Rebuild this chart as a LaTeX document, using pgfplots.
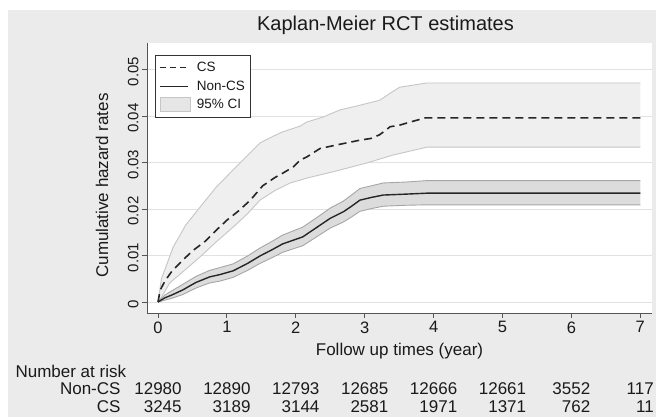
\documentclass[border=0pt]{standalone}
\usepackage{fontspec}
\setmainfont{Liberation Sans}
\usepackage{pgfplots}
\pgfplotsset{compat=1.18}
\usepackage{pgfplotstable}

\definecolor{bg}{HTML}{EBEBEB}
\definecolor{axiscol}{HTML}{555555}
\definecolor{gridcol}{HTML}{E2E2E2}
\definecolor{csfill}{HTML}{EFEFEF}
\definecolor{csedge}{HTML}{C6C6C6}
\definecolor{nfill}{HTML}{DCDCDC}
\definecolor{nedge}{HTML}{A6A6A6}
\definecolor{linecol}{HTML}{262626}
\definecolor{legcol}{HTML}{333333}
\definecolor{txt}{HTML}{1A1A1A}

\pgfplotstableread{
t y
0 0
0.03 0.0025
0.1 0.0045
0.2 0.0066
0.36 0.0090
0.5 0.0110
0.68 0.0130
0.85 0.0155
1.0 0.0176
1.17 0.0196
1.34 0.0219
1.52 0.0250
1.7 0.0268
1.81 0.0277
1.96 0.0290
2.06 0.0305
2.16 0.0312
2.35 0.0330
2.6 0.0338
2.93 0.0348
3.1 0.0352
3.22 0.0360
3.37 0.0377
3.5 0.0380
3.66 0.0387
3.88 0.0396
7.0 0.0396
}\csest

\pgfplotstableread{
t y
0 0
0.05 0.0050
0.22 0.0118
0.4 0.0165
0.61 0.0204
0.85 0.0248
1.09 0.0284
1.3 0.0315
1.48 0.0342
1.65 0.0355
1.81 0.0366
2.06 0.0378
2.16 0.0387
2.4 0.0398
2.64 0.0413
2.9 0.0422
3.22 0.0434
3.4 0.0452
3.51 0.0462
3.9 0.0471
7.0 0.0471
}\cshi

\pgfplotstableread{
t y
0 0
0.05 0.0010
0.17 0.0041
0.4 0.0070
0.61 0.0097
0.85 0.0130
1.09 0.0161
1.3 0.0190
1.48 0.0219
1.7 0.0240
1.92 0.0256
2.2 0.0268
2.54 0.0280
2.8 0.0290
3.03 0.0299
3.41 0.0316
3.7 0.0326
3.9 0.0333
7.0 0.0333
}\cslo

\pgfplotstableread{
t y
0 0
0.1 0.0009
0.2 0.0015
0.36 0.0026
0.55 0.0042
0.75 0.0054
0.9 0.0059
1.09 0.0067
1.3 0.0083
1.48 0.0099
1.65 0.0112
1.81 0.0125
2.1 0.0140
2.3 0.0160
2.5 0.0180
2.69 0.0194
2.8 0.0205
2.93 0.0219
3.1 0.0225
3.27 0.0230
3.6 0.0232
3.9 0.0234
7.0 0.0234
}\nest

\pgfplotstableread{
t y
0 0
0.1 0.0015
0.2 0.0024
0.36 0.0038
0.55 0.0055
0.75 0.0068
0.9 0.0074
1.09 0.0082
1.3 0.0099
1.48 0.0116
1.65 0.0130
1.81 0.0144
2.1 0.0161
2.3 0.0181
2.5 0.0202
2.69 0.0217
2.8 0.0229
2.93 0.0244
3.1 0.0250
3.27 0.0256
3.6 0.0258
3.9 0.0261
7.0 0.0261
}\nhi

\pgfplotstableread{
t y
0 0
0.1 0.0004
0.2 0.0008
0.36 0.0016
0.55 0.0030
0.75 0.0041
0.9 0.0045
1.09 0.0053
1.3 0.0068
1.48 0.0083
1.65 0.0095
1.81 0.0107
2.1 0.0121
2.3 0.0140
2.5 0.0159
2.69 0.0172
2.8 0.0182
2.93 0.0195
3.1 0.0201
3.27 0.0206
3.6 0.0208
3.9 0.0209
7.0 0.0209
}\nlo

\begin{document}
\begin{tikzpicture}
\fill[white] (0bp,0bp) rectangle (658bp,417bp);
\fill[bg] (8bp,0bp) rectangle (656bp,407bp);
\begin{axis}[
  at={(147bp,104bp)}, anchor=south west,
  scale only axis, width=505bp, height=270bp,
  xmin=-0.16, xmax=7.17, ymin=-0.002366, ymax=0.0557,
  axis x line*=bottom, axis y line*=left,
  axis line style={draw=axiscol, line width=0.9bp, -},
  every tick/.style={draw=axiscol, line width=0.9bp},
  tick align=outside, major tick length=5bp,
  xtick={0,1,2,3,4,5,6,7},
  ytick={0,0.01,0.02,0.03,0.04,0.05},
  yticklabels={0,0.01,0.02,0.03,0.04,0.05},
  scaled y ticks=false,
  /pgf/number format/assume math mode=true,
  xticklabel style={font=\fontsize{16.5bp}{18bp}\selectfont, text=txt},
  yticklabel style={font=\fontsize{15bp}{17bp}\selectfont, text=txt, rotate=90, anchor=south, xshift=-2bp},
  ymajorgrids, grid style={draw=gridcol, line width=0.8bp},
  axis background/.style={fill=white},
  clip=false,
  legend style={at={(axis description cs:0,1)}, anchor=north west,
    xshift=8bp, yshift=-12bp, draw=legcol, line width=0.8bp, fill=white,
    font=\fontsize{13.5bp}{15bp}\selectfont, text=txt,
    inner xsep=4bp, inner ysep=5bp, row sep=3.5bp},
  legend cell align=left,
]
% CS confidence band (upper forward, lower backward)
\addplot[fill=csfill, draw=none, forget plot] coordinates {
(0,0) (0.05,0.0050) (0.22,0.0118) (0.4,0.0165) (0.61,0.0204) (0.85,0.0248)
(1.09,0.0284) (1.3,0.0315) (1.48,0.0342) (1.65,0.0355) (1.81,0.0366) (2.06,0.0378)
(2.16,0.0387) (2.4,0.0398) (2.64,0.0413) (2.9,0.0422) (3.22,0.0434) (3.4,0.0452)
(3.51,0.0462) (3.9,0.0471) (7.0,0.0471)
(7.0,0.0333) (3.9,0.0333) (3.7,0.0326) (3.41,0.0316) (3.03,0.0299) (2.8,0.0290)
(2.54,0.0280) (2.2,0.0268) (1.92,0.0256) (1.7,0.0240) (1.48,0.0219) (1.3,0.0190)
(1.09,0.0161) (0.85,0.0130) (0.61,0.0097) (0.4,0.0070) (0.17,0.0041) (0.05,0.0010) (0,0)
} -- cycle;
\addplot[draw=csedge, line width=0.9bp, forget plot] table[x=t,y=y]{\cshi};
\addplot[draw=csedge, line width=0.9bp, forget plot] table[x=t,y=y]{\cslo};

% Non-CS confidence band
\addplot[fill=nfill, draw=none, forget plot] coordinates {
(0,0) (0.1,0.0015) (0.2,0.0024) (0.36,0.0038) (0.55,0.0055) (0.75,0.0068) (0.9,0.0074)
(1.09,0.0082) (1.3,0.0099) (1.48,0.0116) (1.65,0.0130) (1.81,0.0144) (2.1,0.0161)
(2.3,0.0181) (2.5,0.0202) (2.69,0.0217) (2.8,0.0229) (2.93,0.0244) (3.1,0.0250)
(3.27,0.0256) (3.6,0.0258) (3.9,0.0261) (7.0,0.0261)
(7.0,0.0209) (3.9,0.0209) (3.6,0.0208) (3.27,0.0206) (3.1,0.0201) (2.93,0.0195)
(2.8,0.0182) (2.69,0.0172) (2.5,0.0159) (2.3,0.0140) (2.1,0.0121) (1.81,0.0107)
(1.65,0.0095) (1.48,0.0083) (1.3,0.0068) (1.09,0.0053) (0.9,0.0045) (0.75,0.0041)
(0.55,0.0030) (0.36,0.0016) (0.2,0.0008) (0.1,0.0004) (0,0)
} -- cycle;
\addplot[draw=nedge, line width=0.9bp, forget plot] table[x=t,y=y]{\nhi};
\addplot[draw=nedge, line width=0.9bp, forget plot] table[x=t,y=y]{\nlo};

\addplot[draw=linecol, line width=1.6bp, dash pattern=on 8bp off 5bp,
  legend image code/.code={\draw[linecol, line width=1.3bp, dash pattern=on 6bp off 4bp] (0bp,0bp) -- (28bp,0bp); \path (34bp,0bp);}]
  table[x=t,y=y]{\csest};
\addplot[draw=linecol, line width=1.4bp,
  legend image code/.code={\draw[linecol, line width=1.1bp] (0bp,0bp) -- (28bp,0bp); \path (34bp,0bp);}]
  table[x=t,y=y]{\nest};
\addlegendimage{legend image code/.code={\draw[fill=nfill!70!white, draw=csedge, line width=0.8bp] (0bp,-7bp) rectangle (30bp,7bp); \path (34bp,0bp);}}
\legend{CS, Non-CS, 95\% CI}

% titles
\node[anchor=base, text=txt, font=\fontsize{20bp}{22bp}\selectfont] at (axis cs:3.302,0.05849) {Kaplan-Meier RCT estimates};
\node[anchor=base, text=txt, font=\fontsize{17bp}{19bp}\selectfont] at (axis cs:3.505,-0.0114) {Follow up times (year)};
\node[anchor=base, rotate=90, text=txt, font=\fontsize{17bp}{19bp}\selectfont] at (axis cs:-0.7257,0.02505) {Cumulative hazard rates};

% number at risk
\begin{scope}[every node/.style={text=txt, font=\fontsize{17bp}{19bp}\selectfont}]
\node[anchor=base west] at (axis cs:-2.119,-0.01628) {Number at risk};
\node[anchor=base east] at (axis cs:-0.4935,-0.0200) {Non-CS};
\node[anchor=base east] at (axis cs:-0.4935,-0.02387) {CS};
\node[anchor=base] at (axis cs:0,-0.0200) {12980};
\node[anchor=base] at (axis cs:1,-0.0200) {12890};
\node[anchor=base] at (axis cs:2,-0.0200) {12793};
\node[anchor=base] at (axis cs:3,-0.0200) {12685};
\node[anchor=base] at (axis cs:4,-0.0200) {12666};
\node[anchor=base] at (axis cs:5,-0.0200) {12661};
\node[anchor=base] at (axis cs:6,-0.0200) {3552};
\node[anchor=base] at (axis cs:7,-0.0200) {117};
\node[anchor=base] at (axis cs:0,-0.02387) {\hphantom{1}3245};
\node[anchor=base] at (axis cs:1,-0.02387) {\hphantom{1}3189};
\node[anchor=base] at (axis cs:2,-0.02387) {\hphantom{1}3144};
\node[anchor=base] at (axis cs:3,-0.02387) {\hphantom{1}2581};
\node[anchor=base] at (axis cs:4,-0.02387) {\hphantom{1}1971};
\node[anchor=base] at (axis cs:5,-0.02387) {\hphantom{1}1371};
\node[anchor=base] at (axis cs:6,-0.02387) {\hphantom{1}762};
\node[anchor=base] at (axis cs:7,-0.02387) {\hphantom{1}11};
\end{scope}
\end{axis}
\end{tikzpicture}
\end{document}
